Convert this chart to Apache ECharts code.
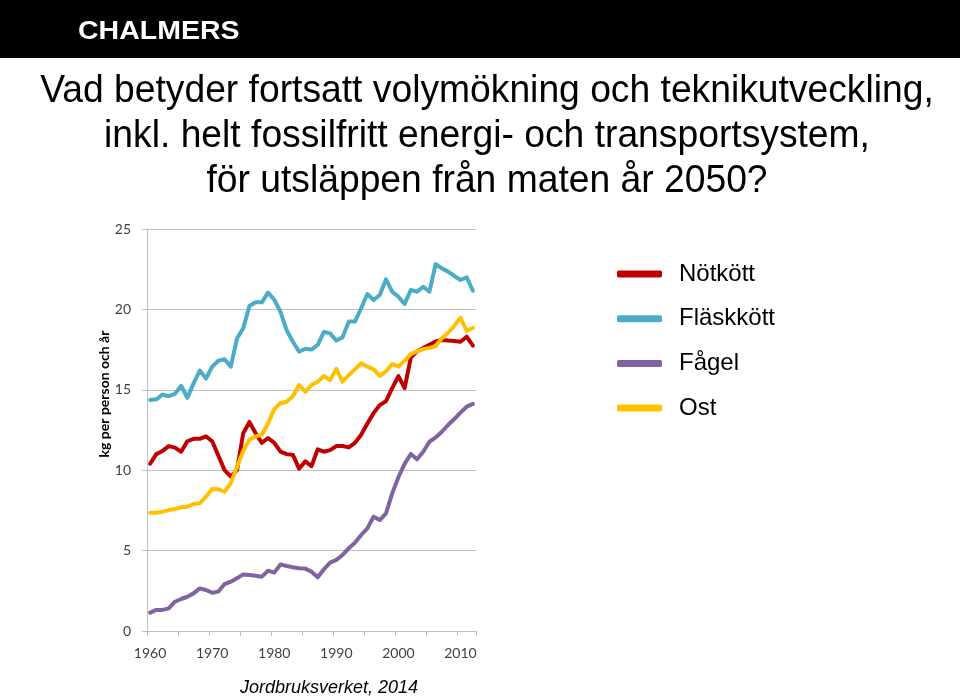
<!DOCTYPE html>
<html>
<head>
<meta charset="utf-8">
<script src="https://cdn.jsdelivr.net/npm/echarts@6/dist/echarts.min.js"></script>
<style>
html,body{margin:0;padding:0;background:#fff;}
#chart{width:960px;height:697px;}
</style>
</head>
<body>
<div id="chart"></div>
<script>
const years = [];
for (let y = 1960; y <= 2012; y++) years.push(String(y));

const seriesNames = ['Nötkött', 'Fläskkött', 'Fågel', 'Ost'];
const seriesColors = ['#C00000', '#4BACC6', '#8064A2', '#FFC000'];

const notkott = [10.4, 11.0, 11.2, 11.5, 11.4, 11.15, 11.8, 11.95, 11.95, 12.1,
  11.8, 10.9, 10.0, 9.6, 10.0, 12.3, 13.0, 12.3, 11.7, 12.0,
  11.7, 11.15, 11.0, 10.95, 10.1, 10.55, 10.25, 11.3, 11.15, 11.25,
  11.5, 11.5, 11.42, 11.7, 12.2, 12.9, 13.55, 14.05, 14.3, 15.1,
  15.85, 15.1, 17.0, 17.4, 17.6, 17.8, 18.0, 18.1, 18.06, 18.04,
  17.99, 18.3, 17.75];

const flaskkott = [14.37, 14.41, 14.7, 14.6, 14.75, 15.25, 14.5, 15.4, 16.2, 15.7,
  16.44, 16.81, 16.9, 16.44, 18.2, 18.82, 20.21, 20.44, 20.44, 21.04,
  20.6, 19.86, 18.7, 17.99, 17.37, 17.55, 17.5, 17.8, 18.6, 18.51,
  18.06, 18.26, 19.24, 19.24, 20.07, 20.96, 20.58, 20.9, 21.87, 21.1,
  20.79, 20.34, 21.21, 21.1, 21.41, 21.1, 22.82, 22.55, 22.35, 22.08,
  21.83, 22.0, 21.16];

const fagel = [1.14, 1.31, 1.31, 1.41, 1.82, 1.99, 2.13, 2.34, 2.65, 2.55,
  2.38, 2.45, 2.92, 3.07, 3.28, 3.52, 3.48, 3.44, 3.38, 3.75,
  3.63, 4.14, 4.04, 3.96, 3.9, 3.88, 3.69, 3.34, 3.84, 4.25,
  4.42, 4.73, 5.14, 5.49, 5.97, 6.38, 7.11, 6.9, 7.32, 8.56,
  9.56, 10.39, 11.01, 10.68, 11.15, 11.77, 12.04, 12.39, 12.81, 13.18,
  13.58, 13.95, 14.12];

const ost = [7.36, 7.36, 7.42, 7.52, 7.59, 7.69, 7.73, 7.9, 7.94, 8.35,
  8.83, 8.81, 8.66, 9.2, 10.2, 11.2, 11.9, 12.1, 12.2, 12.9,
  13.8, 14.16, 14.26, 14.6, 15.3, 14.88, 15.3, 15.5, 15.86, 15.6,
  16.3, 15.5, 15.92, 16.27, 16.65, 16.44, 16.27, 15.86, 16.15, 16.6,
  16.45, 16.8, 17.22, 17.4, 17.53, 17.6, 17.72, 18.2, 18.55, 18.98,
  19.48, 18.67, 18.85];

const seriesData = [notkott, flaskkott, fagel, ost];

const titleLines = [
  'Vad betyder fortsatt volymökning och teknikutveckling,',
  'inkl. helt fossilfritt energi- och transportsystem,',
  'för utsläppen från maten år 2050?'
];
const yAxisTitle = 'kg per person och år';
const sourceText = 'Jordbruksverket, 2014';
const headerText = 'CHALMERS';

const chart = echarts.init(document.getElementById('chart'), null, {renderer: 'canvas'});

const graphics = [
  {type: 'rect', left: 0, top: 0, shape: {width: 960, height: 58}, style: {fill: '#000'}, z: -1},
  {type: 'text', x: 78, y: 32, scaleX: 1.14, style: {text: headerText, fill: '#fff', font: 'bold 25px "Liberation Sans", Arial, sans-serif', textVerticalAlign: 'middle', textAlign: 'left'}},
  {type: 'text', x: 104, y: 394, rotation: Math.PI / 2, style: {text: yAxisTitle, fill: '#000', font: 'bold 14px Lato, sans-serif', textAlign: 'center', textVerticalAlign: 'middle'}},
  {type: 'text', x: 329, y: 688, style: {text: sourceText, fill: '#000', font: 'italic 18px "Liberation Sans", Arial, sans-serif', textAlign: 'center', textVerticalAlign: 'middle'}}
];
const lineY = [91, 136, 181];
titleLines.forEach((t, i) => {
  graphics.push({type: 'text', x: 487, y: lineY[i], scaleX: 0.955, style: {text: t, fill: '#000', font: '39px "Liberation Sans", Arial, sans-serif', textAlign: 'center', textVerticalAlign: 'middle'}});
});

const option = {
  animation: false,
  backgroundColor: '#fff',
  grid: {left: 147, right: 484, top: 229, bottom: 66, containLabel: false},
  legend: {
    orient: 'vertical',
    left: 617,
    top: 262,
    padding: 0,
    itemWidth: 45,
    itemHeight: 7,
    itemGap: 20.7,
    icon: 'roundRect',
    data: seriesNames,
    textStyle: {fontFamily: '"Liberation Sans", Arial, sans-serif', fontSize: 24, color: '#000', lineHeight: 24, padding: [0, 0, 0, 12]}
  },
  xAxis: {
    type: 'category',
    data: years,
    boundaryGap: true,
    axisLine: {show: true, lineStyle: {color: '#BFBFBF', width: 1}},
    axisTick: {show: true, length: 5, lineStyle: {color: '#BFBFBF'}, interval: (i) => i % 5 === 0},
    axisLabel: {interval: (i, v) => Number(v) % 10 === 0, color: '#404040', fontSize: 14, fontFamily: 'Lato, sans-serif', margin: 15},
    splitLine: {show: false}
  },
  yAxis: {
    type: 'value',
    min: 0, max: 25, interval: 5,
    axisLine: {show: true, lineStyle: {color: '#BFBFBF', width: 1}},
    axisTick: {show: true, length: 5, lineStyle: {color: '#BFBFBF'}},
    axisLabel: {color: '#404040', fontSize: 14, fontFamily: 'Lato, sans-serif', margin: 16},
    splitLine: {show: true, lineStyle: {color: '#BFBFBF', width: 1}}
  },
  series: seriesNames.map((name, i) => ({
    name: name,
    type: 'line',
    data: seriesData[i],
    symbol: 'none',
    smooth: false,
    itemStyle: {color: seriesColors[i]},
    lineStyle: {color: seriesColors[i], width: 4, join: 'round', cap: 'round'},
    z: 2
  })),
  graphic: graphics
};
chart.setOption(option);
</script>
</body>
</html>
